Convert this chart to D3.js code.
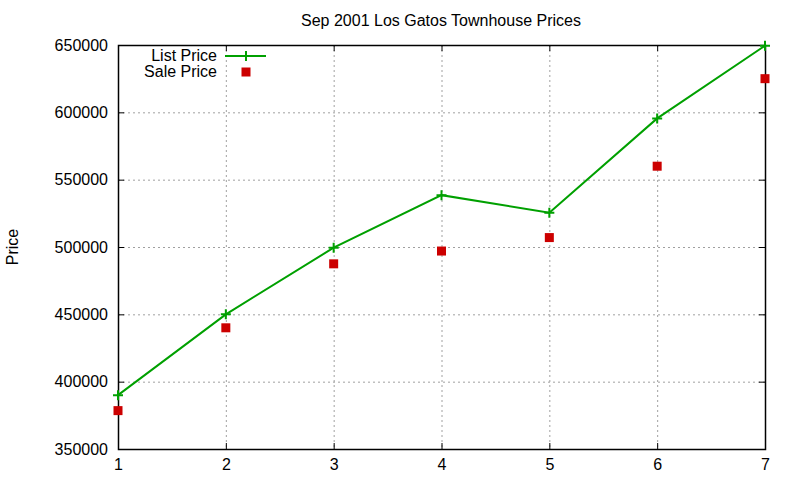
<!DOCTYPE html>
<html>
<head>
<meta charset="utf-8">
<script src="https://cdn.jsdelivr.net/npm/d3@7"></script>
<style>
  body { margin: 0; background: #fff; }
  text { font-family: "Liberation Sans", Arial, sans-serif; fill: #000; }
</style>
</head>
<body>
<svg id="chart"></svg>
<script>
const months = [1, 2, 3, 4, 5, 6, 7];
const listPrice = [390000, 450000, 499500, 538500, 525500, 595500, 649500];
const salePrice = [378500, 440000, 487500, 497000, 507000, 560000, 625000];
const yTicks = [350000, 400000, 450000, 500000, 550000, 600000, 650000];
const xTicks = [1, 2, 3, 4, 5, 6, 7];

const width = 800, height = 480;
const margin = { top: 45, right: 35, bottom: 31, left: 118 };

const svg = d3.select('#chart')
    .attr('width', width)
    .attr('height', height);

const x = d3.scaleLinear()
    .domain([1, 7])
    .range([margin.left, width - margin.right]);

const y = d3.scaleLinear()
    .domain([350000, 650000])
    .range([height - margin.bottom, margin.top]);

// grid
const grid = svg.append('g');
grid.selectAll('.gx')
    .data(xTicks.slice(1, -1))
    .enter().append('line')
    .attr('x1', d => x(d) + 0.5).attr('x2', d => x(d) + 0.5)
    .attr('y1', margin.top).attr('y2', height - margin.bottom)
    .attr('stroke', '#a0a0a0').attr('stroke-dasharray', '2,3');
grid.selectAll('.gy')
    .data(yTicks.slice(1, -1))
    .enter().append('line')
    .attr('y1', d => y(d) + 0.5).attr('y2', d => y(d) + 0.5)
    .attr('x1', margin.left).attr('x2', width - margin.right)
    .attr('stroke', '#a0a0a0').attr('stroke-dasharray', '2,3');

// axes, ticks drawn inward and mirrored
const axisLeft = d3.axisLeft(y).tickValues(yTicks).tickSize(-6).tickPadding(10).tickFormat(d3.format('d'));
const axisRight = d3.axisRight(y).tickValues(yTicks).tickSize(-6).tickFormat('');
const axisBottom = d3.axisBottom(x).tickValues(xTicks).tickSize(-6).tickPadding(10).tickFormat(d3.format('d'));
const axisTop = d3.axisTop(x).tickValues(xTicks).tickSize(-6).tickFormat('');

function styleAxis(g) {
    g.select('.domain').remove();
    g.selectAll('line').attr('stroke', '#000');
    g.selectAll('text').style('font-size', '16px').attr('fill', '#000');
}

svg.append('g').attr('transform', `translate(${margin.left},0)`).call(axisLeft).call(styleAxis);
svg.append('g').attr('transform', `translate(${width - margin.right},0)`).call(axisRight).call(styleAxis);
svg.append('g').attr('transform', `translate(0,${height - margin.bottom})`).call(axisBottom).call(styleAxis);
svg.append('g').attr('transform', `translate(0,${margin.top})`).call(axisTop).call(styleAxis);

// border
svg.append('rect')
    .attr('x', margin.left + 0.5).attr('y', margin.top + 0.5)
    .attr('width', width - margin.left - margin.right)
    .attr('height', height - margin.top - margin.bottom)
    .attr('fill', 'none').attr('stroke', '#000').attr('stroke-width', 1.5);

const green = '#00a000', red = '#cc0000';

// list price line
const line = d3.line().x((d, i) => x(months[i])).y(d => y(d));
svg.append('path')
    .datum(listPrice)
    .attr('d', line)
    .attr('fill', 'none')
    .attr('stroke', green)
    .attr('stroke-width', 2);

svg.selectAll('.plus')
    .data(listPrice)
    .enter().append('path')
    .attr('d', 'M-5,0H5M0,-5V5')
    .attr('transform', (d, i) => `translate(${x(months[i])},${y(d)})`)
    .attr('stroke', green).attr('stroke-width', 2);

// sale price squares
svg.selectAll('.sq')
    .data(salePrice)
    .enter().append('rect')
    .attr('x', (d, i) => x(months[i]) - 4.5)
    .attr('y', d => y(d) - 4.5)
    .attr('width', 9).attr('height', 9)
    .attr('fill', red);

// legend
const lg = svg.append('g');
lg.append('text').attr('x', 217).attr('y', 61).attr('text-anchor', 'end').style('font-size', '16px').text('List Price');
lg.append('line').attr('x1', 225).attr('x2', 266).attr('y1', 56).attr('y2', 56).attr('stroke', green).attr('stroke-width', 2);
lg.append('path').attr('d', 'M-5,0H5M0,-5V5').attr('transform', 'translate(246,56)').attr('stroke', green).attr('stroke-width', 2);
lg.append('text').attr('x', 217).attr('y', 77).attr('text-anchor', 'end').style('font-size', '16px').text('Sale Price');
lg.append('rect').attr('x', 241.5).attr('y', 67.5).attr('width', 9).attr('height', 9).attr('fill', red);

// title and y label
svg.append('text')
    .attr('x', 441).attr('y', 26)
    .attr('text-anchor', 'middle')
    .style('font-size', '16px')
    .text('Sep 2001 Los Gatos Townhouse Prices');

svg.append('text')
    .attr('transform', 'translate(18,247) rotate(-90)')
    .attr('text-anchor', 'middle')
    .style('font-size', '16px')
    .text('Price');
</script>
</body>
</html>
